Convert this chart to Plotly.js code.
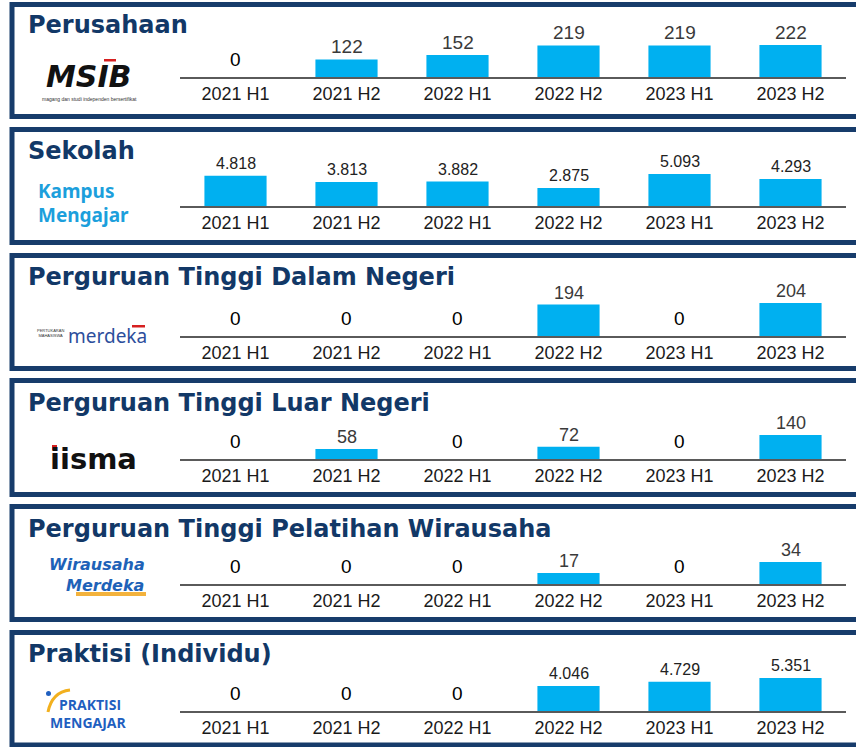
<!DOCTYPE html>
<html><head><meta charset="utf-8">
<script src="https://cdn.plot.ly/plotly-3.0.1.min.js"></script>
<style>html,body{margin:0;padding:0;background:#fff;overflow:hidden}#chart{width:856px;height:747px}</style>
</head><body><div id="chart"></div>
<script>
// ---- DATA ----
const categories = ['2021 H1','2021 H2','2022 H1','2022 H2','2023 H1','2023 H2'];
const perusahaan = [0, 122, 152, 219, 219, 222];
const sekolah = [4818, 3813, 3882, 2875, 5093, 4293];
const ptDalamNegeri = [0, 0, 0, 194, 0, 204];
const ptLuarNegeri = [0, 58, 0, 72, 0, 140];
const ptWirausaha = [0, 0, 0, 17, 0, 34];
const praktisi = [0, 0, 0, 4046, 4729, 5351];
const panelTitles = ['Perusahaan','Sekolah','Perguruan Tinggi Dalam Negeri','Perguruan Tinggi Luar Negeri','Perguruan Tinggi Pelatihan Wirausaha','Praktisi (Individu)'];
const seriesList = [perusahaan, sekolah, ptDalamNegeri, ptLuarNegeri, ptWirausaha, praktisi];

// ---- GEOMETRY / STYLE ----
const W = 856, H = 747;
const fy = p => 1 - p / H;
const fx = p => p / W;
const NAVY = '#173c6b';
const BAR = '#00b0f0';
const arial = 'Liberation Sans, Arial, sans-serif';
const geo = [
  {axisY: 77,  rangeMax: 312,  boxTop: 4.5,   boxBottom: 116.5, titleY: 25,  lblSize: 19, lblColor: '#3a3a3a', lblShift: 0},
  {axisY: 206, rangeMax: 7162, boxTop: 129.5, boxBottom: 242.5, titleY: 151, lblSize: 16, lblColor: '#222222', lblShift: 2},
  {axisY: 336, rangeMax: 278,  boxTop: 255.5, boxBottom: 368.5, titleY: 277, lblSize: 18, lblColor: '#3a3a3a', lblShift: 0},
  {axisY: 459, rangeMax: 262,  boxTop: 380.5, boxBottom: 494.5, titleY: 403, lblSize: 18, lblColor: '#3a3a3a', lblShift: 0},
  {axisY: 584, rangeMax: 69.5, boxTop: 506.5, boxBottom: 619.5, titleY: 529, lblSize: 18, lblColor: '#3a3a3a', lblShift: 0},
  {axisY: 711, rangeMax: 7297, boxTop: 632.5, boxBottom: 745,   titleY: 654, lblSize: 16, lblColor: '#222222', lblShift: 2}
];

const fmt = v => v.toLocaleString('de-DE');

const traces = [];
const layout = {
  width: W, height: H,
  margin: {l: 0, r: 0, t: 0, b: 0},
  paper_bgcolor: '#fff', plot_bgcolor: 'rgba(0,0,0,0)',
  showlegend: false,
  bargap: 0.44,
  shapes: [], annotations: []
};

seriesList.forEach((vals, i) => {
  const g = geo[i];
  const sfx = i === 0 ? '' : String(i + 1);
  traces.push({
    type: 'bar', x: categories, y: vals,
    xaxis: 'x' + sfx, yaxis: 'y' + sfx,
    marker: {color: BAR, line: {width: 0}},
    hoverinfo: 'skip'
  });
  layout['xaxis' + sfx] = {
    domain: [fx(180), fx(846)], anchor: 'y' + sfx, type: 'category',
    showline: true, linecolor: '#5a5a5a', linewidth: 1.5,
    ticks: '', ticklen: 0,
    tickfont: {family: arial, size: 18, color: '#1a1a1a'},
    showgrid: false, zeroline: false, fixedrange: true
  };
  layout['yaxis' + sfx] = {
    domain: [fy(g.axisY), fy(g.axisY - 45)], anchor: 'x' + sfx,
    range: [0, g.rangeMax], visible: false, fixedrange: true
  };
  // value labels
  vals.forEach((v, j) => {
    layout.annotations.push({
      xref: 'x' + sfx, yref: 'y' + sfx, x: categories[j], y: v,
      text: fmt(v), showarrow: false, yanchor: 'bottom',
      yshift: v === 0 ? 5 : g.lblShift,
      font: v === 0 ? {family: arial, size: 19, color: '#000'} : {family: arial, size: g.lblSize, color: g.lblColor}
    });
  });
  // panel box
  layout.shapes.push({
    type: 'rect', xref: 'paper', yref: 'paper',
    x0: fx(12), x1: 1.1, y0: fy(g.boxBottom), y1: fy(g.boxTop),
    line: {color: NAVY, width: 5}, fillcolor: 'rgba(0,0,0,0)'
  });
  // title
  layout.annotations.push({
    xref: 'paper', yref: 'paper', x: fx(26), y: fy(g.titleY),
    xanchor: 'left', yanchor: 'middle', showarrow: false,
    text: '<b>' + panelTitles[i] + '</b>',
    font: {family: 'DejaVu Sans, sans-serif', size: 24, color: '#123867'}
  });
});

// ---- LOGOS (text approximations) ----
const A = layout.annotations, S = layout.shapes;
function txt(x, y, text, font, xa) {
  A.push({xref: 'paper', yref: 'paper', x: fx(x), y: fy(y), text: text, showarrow: false,
    xanchor: xa || 'center', yanchor: 'middle', font: font});
}
function box(x0, y0, x1, y1, color) {
  S.push({type: 'rect', xref: 'paper', yref: 'paper', x0: fx(x0), x1: fx(x1), y0: fy(y1), y1: fy(y0),
    line: {width: 0}, fillcolor: color});
}
// MSIB
txt(89, 77, '<b><i>MSIB</i></b>', {family: 'DejaVu Sans, sans-serif', size: 30, color: '#111'});
txt(89, 99, 'magang dan studi independen bersertifikat', {family: arial, size: 5, color: '#333'});
box(104, 59, 116, 61.5, '#d62020');
// Kampus Mengajar
txt(36, 191, '<b>Kampus</b>', {family: 'Noto Sans, sans-serif', size: 19, color: '#1c9fdc'}, 'left');
txt(36, 215, '<b>Mengajar</b>', {family: 'Noto Sans, sans-serif', size: 19, color: '#1c9fdc'}, 'left');
// merdeka
txt(50, 333, 'PERTUKARAN<br>MAHASISWA', {family: arial, size: 4, color: '#333'});
txt(107, 336, 'merdeka', {family: 'Noto Sans, sans-serif', size: 19, color: '#2c4e9c'});
box(132, 325, 145, 327.5, '#d62020');
// iisma
txt(93, 459, '<b>iisma</b>', {family: 'DejaVu Sans, sans-serif', size: 29, color: '#111'});
box(52, 445, 57, 450, '#d62020');
// Wirausaha Merdeka
txt(97, 564, '<b><i>Wirausaha</i></b>', {family: 'DejaVu Sans, sans-serif', size: 16, color: '#1e62b8'});
txt(105, 585, '<b><i>Merdeka</i></b>', {family: 'DejaVu Sans, sans-serif', size: 16, color: '#1e62b8'});
box(76, 592, 146, 596, '#f3b23c');
// Praktisi Mengajar
txt(90, 704, '<b>PRAKTISI</b>', {family: 'Open Sans, sans-serif', size: 14, color: '#1f5fc0'});
txt(88, 722, '<b>MENGAJAR</b>', {family: 'Open Sans, sans-serif', size: 14, color: '#1f5fc0'});
S.push({type: 'path', xref: 'paper', yref: 'paper',
  path: `M ${fx(48)} ${fy(712)} Q ${fx(52)} ${fy(692)} ${fx(70)} ${fy(690)}`,
  line: {color: '#f2b01e', width: 3}});
S.push({type: 'circle', xref: 'paper', yref: 'paper', x0: fx(46), x1: fx(51), y0: fy(696), y1: fy(691),
  line: {width: 0}, fillcolor: '#1f5fc0'});

Plotly.newPlot('chart', traces, layout, {displayModeBar: false, staticPlot: true});
</script>
</body></html>
